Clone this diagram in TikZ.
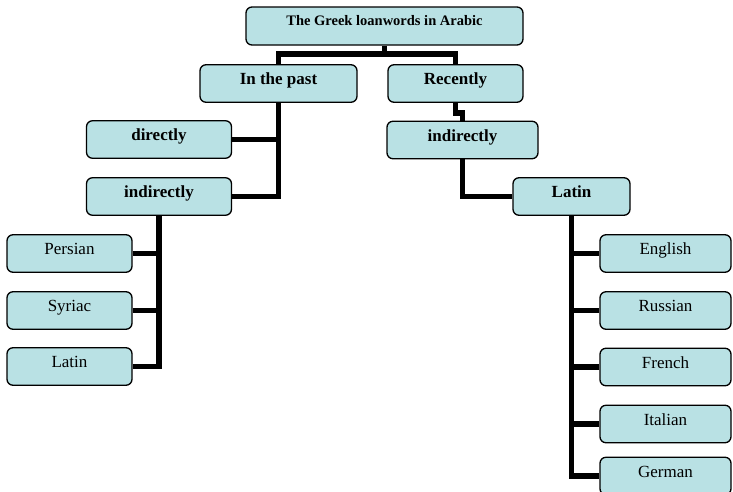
\documentclass[tikz,border=0pt]{standalone}
\usepackage{fontspec}
\setmainfont{Liberation Serif}
\usepackage{tikz}

\begin{document}
\begin{tikzpicture}[x=1pt,y=-1pt,
  box/.style={draw=black,line width=1.3pt,rounded corners=6pt,fill=boxblue,
    inner xsep=0pt,inner ysep=0pt,text height=20pt,text depth=17.5pt,
    font=\fontsize{17}{20}\selectfont},
  head/.style={box,font=\fontsize{17}{20}\selectfont\bfseries},
  link/.style={line width=5.5pt}]
  \definecolor{boxblue}{RGB}{185,225,228}
  \useasboundingbox (0,0) rectangle (733,491);

  % first levels
  \node[head,minimum width=277pt,text height=18pt,text depth=20pt,
    font=\fontsize{14.5}{16}\selectfont\bfseries] (root) at (384.5,26) {The Greek loanwords in Arabic};
  \node[head,minimum width=157pt] (past) at (278.5,83.5) {In the past};
  \node[head,minimum width=135pt] (recent) at (455.5,83.5) {Recently};
  \node[head,minimum width=145pt] (direct) at (159,139.5) {directly};
  \node[head,minimum width=145pt] (indirL) at (159,196.5) {indirectly};
  \node[head,minimum width=151pt] (indirR) at (462.5,140) {indirectly};
  \node[head,minimum width=117pt] (latinR) at (571.5,196.5) {Latin};

  % languages on the left
  \node[box,minimum width=125pt] (persian) at (69.5,253.5) {Persian};
  \node[box,minimum width=125pt] (syriac) at (69.5,310.5) {Syriac};
  \node[box,minimum width=125pt] (latinL) at (69.5,366.5) {Latin};

  % languages on the right
  \node[box,minimum width=131pt] (english) at (665.5,253.5) {English};
  \node[box,minimum width=131pt] (russian) at (665.5,310.5) {Russian};
  \node[box,minimum width=131pt] (french) at (665.5,367) {French};
  \node[box,minimum width=131pt] (italian) at (665.5,424) {Italian};
  \node[box,minimum width=131pt] (german) at (665.5,476) {German};

  % connectors
  \coordinate (fork) at (384.5,54);
  \draw[link] (root.south) -- (fork);
  \draw[link] (past.north) |- (fork) -| (recent.north);

  \draw[link] (past.south) |- (indirL.east);
  \draw[link] (direct.east) -- (direct.east -| past.south);

  \draw[link] (indirL.south) |- (latinL.east);
  \draw[link] (persian.east) -- (persian.east -| indirL.south);
  \draw[link] (syriac.east) -- (syriac.east -| indirL.south);

  \draw[link] (recent.south) -- ++(0,10) -| (indirR.north);
  \draw[link] (indirR.south) |- (latinR.west);

  \draw[link] (latinR.south) |- (german.west);
  \draw[link] (english.west) -- (english.west -| latinR.south);
  \draw[link] (russian.west) -- (russian.west -| latinR.south);
  \draw[link] (french.west) -- (french.west -| latinR.south);
  \draw[link] (italian.west) -- (italian.west -| latinR.south);
\end{tikzpicture}
\end{document}
